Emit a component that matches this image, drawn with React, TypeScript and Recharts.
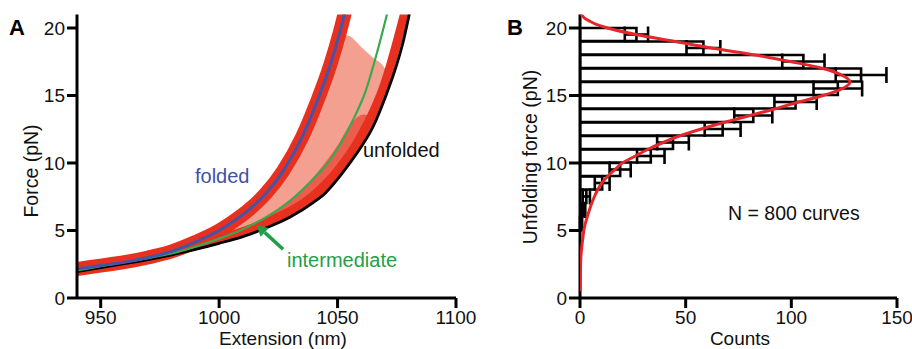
import React from 'react';
import { ComposedChart, LineChart, Line, Area, Bar, ErrorBar, XAxis, YAxis, ReferenceLine } from 'recharts';

const FONT = '"Liberation Sans", Arial, Helvetica, sans-serif';

// Panel A: force-extension curves, extension (nm) vs force (pN)
const foldedExt = [940, 950, 960, 970, 980, 990, 1000, 1005, 1013, 1020, 1027, 1035, 1041, 1047, 1051, 1054];
const foldedForce = [2.15, 2.4, 2.65, 3.0, 3.45, 4.15, 5.0, 5.55, 6.6, 7.8, 9.4, 11.9, 14.4, 17.3, 19.7, 21.8];

const interExt = [940, 950, 960, 970, 980, 990, 1000, 1010, 1020, 1027, 1038, 1048, 1056, 1062, 1067, 1071];
const interForce = [2.05, 2.35, 2.65, 2.95, 3.3, 3.8, 4.4, 5.1, 6.0, 6.8, 8.5, 10.5, 13.0, 15.4, 18.4, 21.1];

const unfoldedExt = [940, 950, 960, 970, 980, 990, 1000, 1010, 1020, 1030, 1040, 1045, 1050, 1055, 1060, 1065, 1070, 1075, 1078, 1080.5];
const unfoldedForce = [1.95, 2.25, 2.55, 2.85, 3.2, 3.6, 4.05, 4.55, 5.2, 6.0, 7.1, 7.8, 8.8, 9.95, 11.2, 12.7, 14.8, 17.3, 19.2, 21.2];

// dense edge of the traces just inside the unfolded curve
const edgeExt = [940, 960, 980, 1000, 1020, 1040, 1050, 1060, 1070, 1078.5];
const edgeForce = [2.2, 2.8, 3.45, 4.35, 5.6, 7.6, 9.4, 12.0, 15.9, 21.2];

// scatter cloud of the raw traces, as its outline
const cloudExt = [940, 960, 980, 1000, 1010, 1020, 1030, 1040, 1045, 1050, 1055, 1060, 1065, 1070, 1071.5];
const cloudLow = [1.95, 2.55, 3.2, 4.05, 4.55, 5.2, 6.0, 7.1, 7.8, 8.8, 9.95, 11.2, 12.7, 14.8, 15.6];
const cloudHigh = [2.15, 2.65, 3.45, 5.0, 6.3, 7.8, 10.3, 14.0, 16.4, 19.6, 19.4, 18.6, 17.8, 17.0, 16.2];

// denser part of the cloud (between intermediate and unfolded)
const denseExt = [990, 1000, 1010, 1020, 1030, 1040, 1050, 1056, 1061, 1066];
const denseLow = [3.6, 4.05, 4.55, 5.2, 6.0, 7.1, 8.8, 10.2, 11.5, 13.2];
const denseHigh = [3.6, 4.4, 5.1, 6.0, 7.2, 9.0, 11.3, 13.0, 13.6, 13.2];

// Panel B: unfolding force histogram, 1 pN bins
const binCenter = [5.5, 6.5, 7.5, 8.5, 9.5, 10.5, 11.5, 12.5, 13.5, 14.5, 15.5, 16.5, 17.5, 18.5, 19.5];
const binCount = [0.5, 1.5, 3, 10.5, 19, 33.5, 44, 67.5, 82, 102, 122, 133, 105.7, 58.4, 26.7];
const binErr = [0.5, 1, 1.7, 3.5, 5, 6.5, 7.5, 8.5, 9, 10, 11.5, 12, 10, 8, 5.5];

// fitted distribution
const fitForce = [21.05, 20.75, 20.5, 20.25, 20, 19.5, 19, 18.5, 18, 17.5, 17, 16.5, 16, 15.5, 15, 14.5, 14, 13.5, 13, 12.5, 12, 11.5, 11, 10.5, 10, 9.5, 9, 8.5, 8, 7.5, 7, 6.5, 6, 5.5, 5, 4.5, 4, 3, 2, 1, 0.5];
const fitCount = [0.5, 2, 4.7, 8, 13, 27, 45, 63, 83, 100, 115, 124, 127.8, 124, 115, 103, 92, 80, 68, 57, 47, 39, 32, 26, 20, 16.5, 13, 10.3, 8.3, 6.8, 5.5, 4.4, 3.4, 2.5, 1.8, 1.4, 1.0, 0.4, 0.2, 0.1, 0.05];

const pts = (xs: number[], ys: number[]) => xs.map((x, i) => ({ x, y: ys[i] }));
const band = (xs: number[], lo: number[], hi: number[]) => xs.map((x, i) => ({ x, band: [lo[i], hi[i]] }));

const foldedData = pts(foldedExt, foldedForce);
const interData = pts(interExt, interForce);
const unfoldedData = pts(unfoldedExt, unfoldedForce);
const edgeData = pts(edgeExt, edgeForce);
const cloudData = band(cloudExt, cloudLow, cloudHigh);
const denseData = band(denseExt, denseLow, denseHigh);

const bins = binCenter.map((f, i) => ({ f, count: binCount[i], err: binErr[i] }));
const fitData = fitForce.map((f, i) => ({ f, count: fitCount[i] }));

const RED = '#e8301f';
const tickStyle = { fill: '#111', fontSize: 19, fontFamily: FONT };
const axisStyle = { stroke: '#000', strokeWidth: 3 };

const Arrow = (props: any) => {
  const { x1, y1, x2, y2 } = props;
  const a = Math.atan2(y2 - y1, x2 - x1);
  const len = 11;
  const half = 6;
  const bx = x2 - len * Math.cos(a);
  const by = y2 - len * Math.sin(a);
  const px = -Math.sin(a) * half;
  const py = Math.cos(a) * half;
  return (
    <g>
      <line x1={x1} y1={y1} x2={bx} y2={by} stroke="#1f9e48" strokeWidth={3.5} />
      <polygon points={`${x2},${y2} ${bx + px},${by + py} ${bx - px},${by - py}`} fill="#1f9e48" />
    </g>
  );
};

export default function App() {
  return (
    <div style={{ position: 'absolute', left: 0, top: 0, width: 912, height: 349, background: '#fff', overflow: 'hidden' }}>
      {/* Panel A */}
      <div style={{ position: 'absolute', left: 0, top: 0 }}>
        <ComposedChart width={490} height={349} margin={{ top: 14.5, right: 34, left: 0, bottom: 0 }}>
          <XAxis type="number" dataKey="x" domain={[940, 1100]} ticks={[950, 1000, 1050, 1100]} allowDataOverflow
            height={51} tickSize={10} tickMargin={3} tick={tickStyle} axisLine={axisStyle} tickLine={axisStyle} />
          <YAxis type="number" domain={[0, 21]} ticks={[0, 5, 10, 15, 20]} allowDataOverflow
            width={77} tickSize={10} tickMargin={2} tick={tickStyle} axisLine={axisStyle} tickLine={axisStyle} />
          <Area data={cloudData} dataKey="band" type="monotone" fill="#f3a091" fillOpacity={1} stroke="none" isAnimationActive={false} />
          <Area data={denseData} dataKey="band" type="monotone" fill={RED} fillOpacity={0.6} stroke="none" isAnimationActive={false} />
          <Line data={edgeData} dataKey="y" type="monotone" stroke={RED} strokeWidth={9} dot={false} strokeLinecap="round" isAnimationActive={false} />
          <Line data={foldedData} dataKey="y" type="monotone" stroke={RED} strokeWidth={14} dot={false} strokeLinecap="round" isAnimationActive={false} />
          <Line data={unfoldedData} dataKey="y" type="monotone" stroke="#000" strokeWidth={2.8} dot={false} isAnimationActive={false} />
          <Line data={interData} dataKey="y" type="monotone" stroke="#3aa84f" strokeWidth={2.2} dot={false} isAnimationActive={false} />
          <Line data={foldedData} dataKey="y" type="monotone" stroke="#4654a8" strokeWidth={3} dot={false} isAnimationActive={false} />
          <ReferenceLine segment={[{ x: 1027, y: 3.61 }, { x: 1015.8, y: 5.41 }]} ifOverflow="visible" shape={Arrow} />
        </ComposedChart>
      </div>

      {/* Panel B: histogram */}
      <div style={{ position: 'absolute', left: 480, top: 0 }}>
        <ComposedChart layout="vertical" width={432} height={349} data={bins} barCategoryGap={0} barGap={0}
          margin={{ top: 14.5, right: 15, left: 0, bottom: 0 }}>
          <XAxis type="number" domain={[0, 150]} ticks={[0, 50, 100, 150]} allowDataOverflow
            height={51} tickSize={10} tickMargin={3} tick={tickStyle} axisLine={axisStyle} tickLine={axisStyle} />
          <YAxis type="number" dataKey="f" domain={[0, 21]} ticks={[0, 5, 10, 15, 20]} allowDataOverflow reversed
            width={100} tickSize={11} tickMargin={2} tick={tickStyle} axisLine={axisStyle} tickLine={axisStyle} />
          <Bar dataKey="count" fill="#fff" stroke="#000" strokeWidth={2.6} isAnimationActive={false}>
            <ErrorBar dataKey="err" direction="x" width={8} stroke="#000" strokeWidth={2.6} />
          </Bar>
        </ComposedChart>
      </div>

      {/* Panel B: fitted curve */}
      <div style={{ position: 'absolute', left: 480, top: 0 }}>
        <LineChart layout="vertical" width={432} height={349} data={fitData}
          margin={{ top: 14.5, right: 15, left: 100, bottom: 51 }}>
          <XAxis hide type="number" domain={[0, 150]} allowDataOverflow />
          <YAxis hide type="number" dataKey="f" domain={[0, 21]} allowDataOverflow reversed />
          <Line dataKey="count" type="monotone" stroke="#e5262b" strokeWidth={3} dot={false} isAnimationActive={false} />
        </LineChart>
      </div>

      {/* titles and labels */}
      <svg width={912} height={349} style={{ position: 'absolute', left: 0, top: 0, pointerEvents: 'none' }}
        fontFamily={FONT}>
        <text x={9} y={35} fontSize={22} fontWeight="bold">A</text>
        <text x={507} y={35} fontSize={22} fontWeight="bold">B</text>
        <text transform="translate(38,171) rotate(-90)" textAnchor="middle" fontSize={19.5} fill="#111">Force (pN)</text>
        <text x={283} y={345} textAnchor="middle" fontSize={19} fill="#111">Extension (nm)</text>
        <text transform="translate(537,157) rotate(-90)" textAnchor="middle" fontSize={19.5} fill="#111">Unfolding force (pN)</text>
        <text x={740} y={345} textAnchor="middle" fontSize={19} fill="#111">Counts</text>
        <text x={728} y={220} fontSize={19.5} fill="#111">N = 800 curves</text>
        <text x={195} y={183} fontSize={20} fill="#3f51a3">folded</text>
        <text x={363} y={157} fontSize={20} fill="#111">unfolded</text>
        <text x={287} y={267} fontSize={20} fill="#22a047">intermediate</text>
      </svg>
    </div>
  );
}
